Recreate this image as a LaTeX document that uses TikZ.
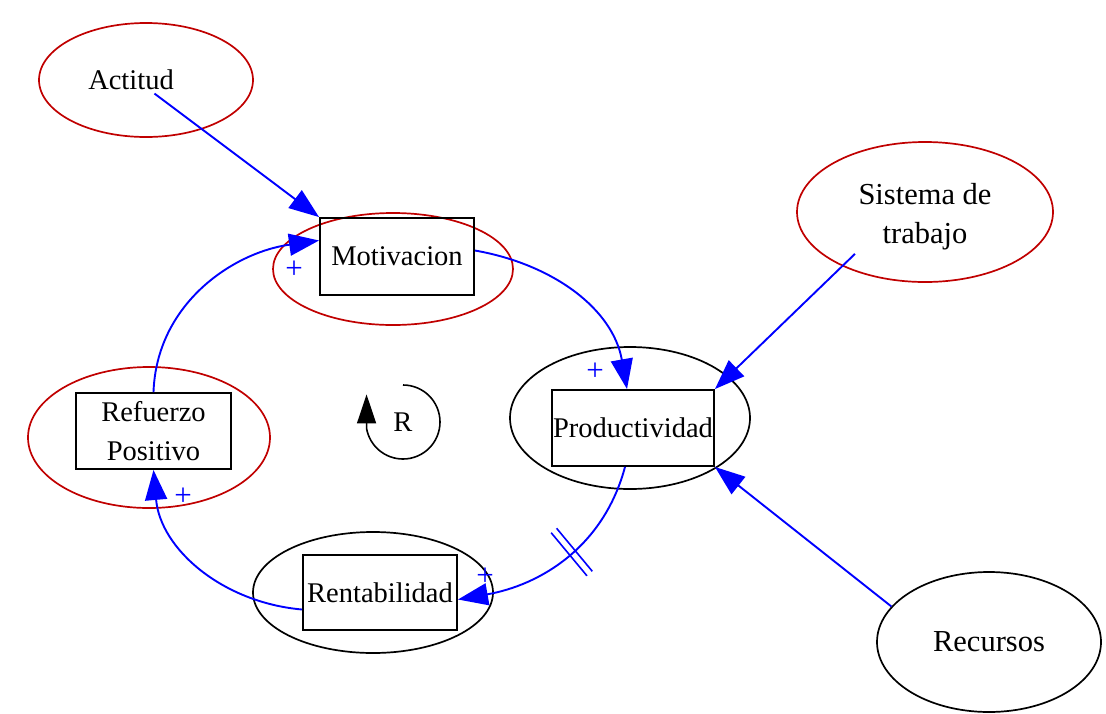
\documentclass[tikz,border=0pt]{standalone}
\usepackage{fontspec}
\setmainfont{Liberation Serif}
\usetikzlibrary{shapes.geometric,arrows.meta,decorations.markings}
\definecolor{ringred}{RGB}{192,0,0}

\begin{document}
\begin{tikzpicture}[x=1pt,y=1pt,font=\fontsize{28.5}{39}\selectfont]
	\tikzset{
		red ring/.style={draw=ringred, ellipse, line width=1.7pt, inner sep=0pt},
		black ring/.style={draw=black, ellipse, line width=1.7pt, inner sep=0pt},
		var box/.style={draw, rectangle, line width=1.9pt, inner sep=0pt, align=center},
		link/.style={draw=blue, line width=1.9pt, -{Triangle[length=30pt,width=22pt]}},
		sign/.style={text=blue, font=\fontsize{31}{31}\selectfont, inner sep=0pt},
		delay/.style={postaction={decorate},
			decoration={markings, mark=at position 0.45 with {
				\draw[-, blue, line width=1.6pt] (-3.5pt,-28pt) -- (-3.5pt,28pt);
				\draw[-, blue, line width=1.6pt] (3.5pt,-28pt) -- (3.5pt,28pt);}}},
	}
	\useasboundingbox (0,0) rectangle (1106,-713);
	%
	\node[red ring, minimum width=214, minimum height=114] (actring) at (146,-80) {};
	\node (actitud) at (131,-80) {Actitud};
	\node[red ring, minimum width=240, minimum height=112] (motring) at (393,-269) {};
	\node[var box, minimum width=154, minimum height=77] (motivacion) at (397,-256.5) {Motivacion};
	\node[red ring, minimum width=256, minimum height=140] (sisring) at (925,-212) {};
	\node[align=center, font=\fontsize{30.5}{39}\selectfont] (sistema) at (925,-217) {Sistema de\\trabajo};
	\node[black ring, minimum width=240, minimum height=142] (prodring) at (630,-418) {};
	\node[var box, minimum width=162, minimum height=76] (productividad) at (633,-428) {Productividad};
	\node[red ring, minimum width=242, minimum height=141] (refring) at (149,-437.5) {};
	\node[var box, minimum width=155, minimum height=76] (refuerzo) at (153.5,-431) {Refuerzo\\Positivo};
	\node[black ring, minimum width=240, minimum height=121] (rentring) at (373,-592.5) {};
	\node[var box, minimum width=154, minimum height=75] (rentabilidad) at (380,-592.5) {Rentabilidad};
	\node[black ring, minimum width=224, minimum height=140, font=\fontsize{30.5}{39}\selectfont] (recursos) at (989,-642) {Recursos};
	%
	\node (loopR) at (403,-422) {R};
	\draw[line width=1.6pt, -{Triangle[length=29pt,width=19pt]}] ([yshift=37pt]loopR.center)
		arc[start angle=90, end angle=-170, radius=37pt] -- ++(0,34);
	%
	\draw[link] (actitud.-30) -- (motivacion.north west);
	\draw[link] (sistema.south west) -- (productividad.north east);
	\draw[link] (recursos.160) -- (productividad.south east);
	\draw[link] ([yshift=6pt]motivacion.east) to[out=-10, in=100] ([xshift=-6pt]productividad.north);
	\draw[link, delay] ([xshift=-8pt]productividad.south) to[out=-105, in=10] ([yshift=-7pt]rentabilidad.east);
	\draw[link] ([yshift=-17pt]rentabilidad.west) to[out=175, in=-85] (refuerzo.south);
	\draw[link] (refuerzo.north) to[out=88, in=188] ([yshift=16pt]motivacion.west);
	%
	\node[sign] (plusmot) at (294,-270) {+};
	\node[sign] (plusprod) at (595,-372) {+};
	\node[sign] (plusrent) at (485,-577) {+};
	\node[sign] (plusref) at (183,-497) {+};
\end{tikzpicture}
\end{document}
